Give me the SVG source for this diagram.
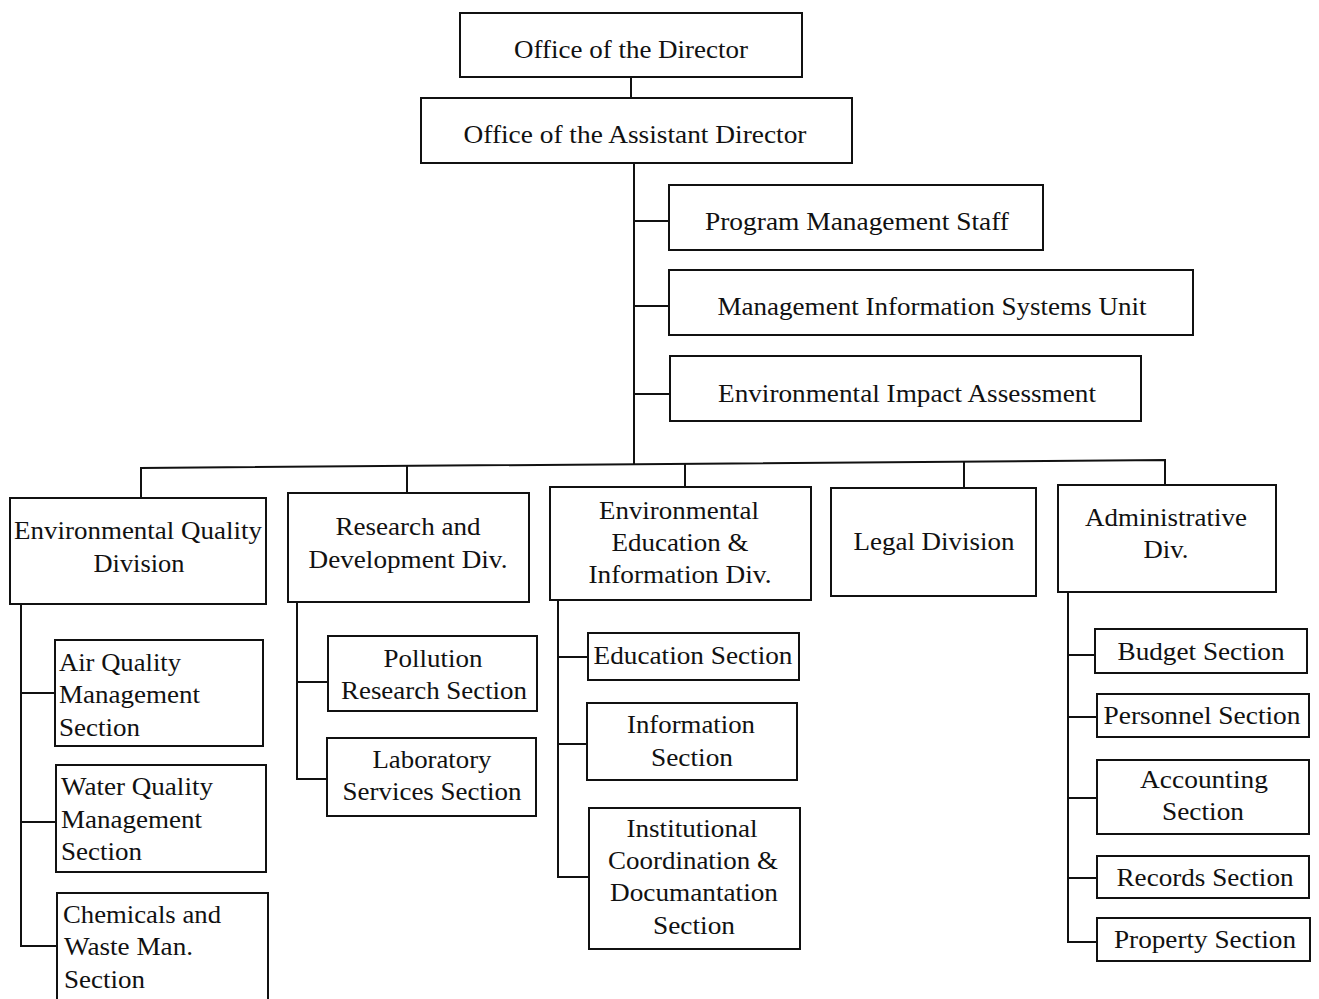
<svg xmlns="http://www.w3.org/2000/svg" width="1319" height="999" viewBox="0 0 1319 999">
  <style>
    .box { fill: #fff; stroke: #111; stroke-width: 2; }
    .wire { fill: none; stroke: #111; stroke-width: 2; }
    text { font-family: "Liberation Serif", "Times New Roman", serif; font-size: 26px; fill: #111; }
    .c { text-anchor: middle; }
  </style>
  <rect width="1319" height="999" fill="#fff"/>

  <!-- connectors -->
  <g id="connectors" class="wire">
    <line x1="631" y1="77" x2="631" y2="98"/>
    <line x1="634" y1="163" x2="634" y2="465"/>
    <line x1="634" y1="221" x2="669" y2="221"/>
    <line x1="634" y1="306" x2="669" y2="306"/>
    <line x1="634" y1="394" x2="670" y2="394"/>
    <!-- division bus -->
    <polyline points="141,498 141,468 1165,460 1165,485"/>
    <line x1="407" y1="466" x2="407" y2="493"/>
    <line x1="685" y1="463" x2="685" y2="487"/>
    <line x1="964" y1="461" x2="964" y2="488"/>
    <!-- Environmental Quality sections -->
    <polyline points="21,604 21,946 57,946"/>
    <line x1="21" y1="693" x2="55" y2="693"/>
    <line x1="21" y1="822" x2="56" y2="822"/>
    <!-- Research and Development sections -->
    <polyline points="297,602 297,779 327,779"/>
    <line x1="297" y1="682" x2="328" y2="682"/>
    <!-- Education & Information sections -->
    <polyline points="558,600 558,877 589,877"/>
    <line x1="558" y1="657" x2="588" y2="657"/>
    <line x1="558" y1="744" x2="587" y2="744"/>
    <!-- Administrative sections -->
    <polyline points="1068,592 1068,942 1097,942"/>
    <line x1="1068" y1="655" x2="1095" y2="655"/>
    <line x1="1068" y1="717" x2="1097" y2="717"/>
    <line x1="1068" y1="798" x2="1097" y2="798"/>
    <line x1="1068" y1="878" x2="1097" y2="878"/>
  </g>

  <g id="director">
    <rect class="box" x="460" y="13" width="342" height="64"/>
    <text class="c" x="631" y="58" textLength="234" lengthAdjust="spacingAndGlyphs">Office of the Director</text>
  </g>
  <g id="assistant-director">
    <rect class="box" x="421" y="98" width="431" height="65"/>
    <text class="c" x="635" y="143" textLength="343" lengthAdjust="spacingAndGlyphs">Office of the Assistant Director</text>
  </g>
  <g id="program-management">
    <rect class="box" x="669" y="185" width="374" height="65"/>
    <text class="c" x="857" y="230" textLength="304" lengthAdjust="spacingAndGlyphs">Program Management Staff</text>
  </g>
  <g id="mis-unit">
    <rect class="box" x="669" y="270" width="524" height="65"/>
    <text class="c" x="932" y="315" textLength="429" lengthAdjust="spacingAndGlyphs">Management Information Systems Unit</text>
  </g>
  <g id="eia">
    <rect class="box" x="670" y="356" width="471" height="65"/>
    <text class="c" x="907" y="402" textLength="378" lengthAdjust="spacingAndGlyphs">Environmental Impact Assessment</text>
  </g>

  <!-- divisions -->
  <g id="eq-division">
    <rect class="box" x="10" y="498" width="256" height="106"/>
    <text class="c" x="138" y="539" textLength="248" lengthAdjust="spacingAndGlyphs">Environmental Quality</text>
    <text class="c" x="139" y="572" textLength="91" lengthAdjust="spacingAndGlyphs">Division</text>
  </g>
  <g id="rd-division">
    <rect class="box" x="288" y="493" width="241" height="109"/>
    <text class="c" x="408" y="535" textLength="145" lengthAdjust="spacingAndGlyphs">Research and</text>
    <text class="c" x="408" y="568" textLength="199" lengthAdjust="spacingAndGlyphs">Development Div.</text>
  </g>
  <g id="eei-division">
    <rect class="box" x="550" y="487" width="261" height="113"/>
    <text class="c" x="679" y="519" textLength="160" lengthAdjust="spacingAndGlyphs">Environmental</text>
    <text class="c" x="680" y="551" textLength="137" lengthAdjust="spacingAndGlyphs">Education &amp;</text>
    <text class="c" x="680" y="583" textLength="183" lengthAdjust="spacingAndGlyphs">Information Div.</text>
  </g>
  <g id="legal-division">
    <rect class="box" x="831" y="488" width="205" height="108"/>
    <text class="c" x="934" y="550" textLength="161" lengthAdjust="spacingAndGlyphs">Legal Division</text>
  </g>
  <g id="admin-division">
    <rect class="box" x="1058" y="485" width="218" height="107"/>
    <text class="c" x="1166" y="526" textLength="162" lengthAdjust="spacingAndGlyphs">Administrative</text>
    <text class="c" x="1166" y="558" textLength="45" lengthAdjust="spacingAndGlyphs">Div.</text>
  </g>

  <!-- Environmental Quality sections -->
  <g id="air-quality">
    <rect class="box" x="55" y="640" width="208" height="106"/>
    <text x="59" y="671" textLength="122" lengthAdjust="spacingAndGlyphs">Air Quality</text>
    <text x="59" y="703" textLength="141" lengthAdjust="spacingAndGlyphs">Management</text>
    <text x="59" y="736" textLength="81" lengthAdjust="spacingAndGlyphs">Section</text>
  </g>
  <g id="water-quality">
    <rect class="box" x="56" y="765" width="210" height="107"/>
    <text x="61" y="795" textLength="152" lengthAdjust="spacingAndGlyphs">Water Quality</text>
    <text x="61" y="828" textLength="141" lengthAdjust="spacingAndGlyphs">Management</text>
    <text x="61" y="860" textLength="81" lengthAdjust="spacingAndGlyphs">Section</text>
  </g>
  <g id="chemicals-waste">
    <path class="box" d="M57,1005 V893 H268 V1005"/>
    <text x="63" y="923" textLength="158" lengthAdjust="spacingAndGlyphs">Chemicals and</text>
    <text x="64" y="955" textLength="129" lengthAdjust="spacingAndGlyphs">Waste Man.</text>
    <text x="64" y="988" textLength="81" lengthAdjust="spacingAndGlyphs">Section</text>
  </g>

  <!-- Research and Development sections -->
  <g id="pollution-research">
    <rect class="box" x="328" y="636" width="209" height="75"/>
    <text class="c" x="433" y="667" textLength="99" lengthAdjust="spacingAndGlyphs">Pollution</text>
    <text class="c" x="434" y="699" textLength="186" lengthAdjust="spacingAndGlyphs">Research Section</text>
  </g>
  <g id="laboratory-services">
    <rect class="box" x="327" y="738" width="209" height="78"/>
    <text class="c" x="432" y="768" textLength="119" lengthAdjust="spacingAndGlyphs">Laboratory</text>
    <text class="c" x="432" y="800" textLength="179" lengthAdjust="spacingAndGlyphs">Services Section</text>
  </g>

  <!-- Education & Information sections -->
  <g id="education-section">
    <rect class="box" x="588" y="633" width="211" height="47"/>
    <text class="c" x="693" y="664" textLength="199" lengthAdjust="spacingAndGlyphs">Education Section</text>
  </g>
  <g id="information-section">
    <rect class="box" x="587" y="703" width="210" height="77"/>
    <text class="c" x="691" y="733" textLength="128" lengthAdjust="spacingAndGlyphs">Information</text>
    <text class="c" x="692" y="766" textLength="82" lengthAdjust="spacingAndGlyphs">Section</text>
  </g>
  <g id="institutional-coordination">
    <rect class="box" x="589" y="808" width="211" height="141"/>
    <text class="c" x="692" y="837" textLength="131" lengthAdjust="spacingAndGlyphs">Institutional</text>
    <text class="c" x="693" y="869" textLength="170" lengthAdjust="spacingAndGlyphs">Coordination &amp;</text>
    <text class="c" x="694" y="901" textLength="168" lengthAdjust="spacingAndGlyphs">Documantation</text>
    <text class="c" x="694" y="934" textLength="82" lengthAdjust="spacingAndGlyphs">Section</text>
  </g>

  <!-- Administrative sections -->
  <g id="budget-section">
    <rect class="box" x="1095" y="629" width="212" height="44"/>
    <text class="c" x="1201" y="660" textLength="167" lengthAdjust="spacingAndGlyphs">Budget Section</text>
  </g>
  <g id="personnel-section">
    <rect class="box" x="1097" y="694" width="212" height="43"/>
    <text class="c" x="1202" y="724" textLength="197" lengthAdjust="spacingAndGlyphs">Personnel Section</text>
  </g>
  <g id="accounting-section">
    <rect class="box" x="1097" y="760" width="212" height="74"/>
    <text class="c" x="1204" y="788" textLength="128" lengthAdjust="spacingAndGlyphs">Accounting</text>
    <text class="c" x="1203" y="820" textLength="82" lengthAdjust="spacingAndGlyphs">Section</text>
  </g>
  <g id="records-section">
    <rect class="box" x="1097" y="856" width="212" height="42"/>
    <text class="c" x="1205" y="886" textLength="177" lengthAdjust="spacingAndGlyphs">Records Section</text>
  </g>
  <g id="property-section">
    <rect class="box" x="1097" y="918" width="213" height="43"/>
    <text class="c" x="1205" y="948" textLength="182" lengthAdjust="spacingAndGlyphs">Property Section</text>
  </g>
</svg>
